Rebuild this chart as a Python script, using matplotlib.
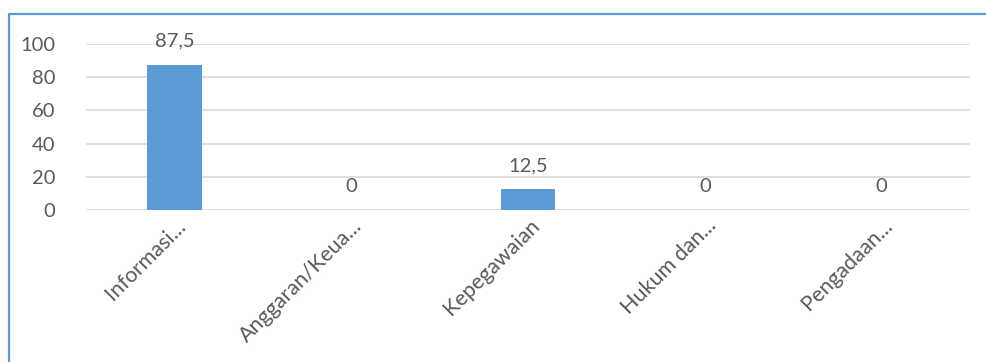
import matplotlib
matplotlib.use("Agg")
import matplotlib.pyplot as plt
from matplotlib.lines import Line2D
from matplotlib.transforms import ScaledTranslation

categories = ["Informasi...", "Anggaran/Keua...", "Kepegawaian", "Hukum dan...", "Pengadaan..."]
values = [87.5, 0, 12.5, 0, 0]
value_labels = ["87,5", "0", "12,5", "0", "0"]
yticks = [0, 20, 40, 60, 80, 100]

plt.rcParams['font.family'] = ['Lato', 'DejaVu Sans']
text_color = "#595959"
bar_color = "#5B9BD5"
grid_color = "#D9D9D9"

W, H = 986, 362
fig = plt.figure(figsize=(W/100, H/100), dpi=100)
ax = fig.add_axes([86/W, 1-210/H, (970-86)/W, (210-44)/H])

x = list(range(len(categories)))
ax.bar(x, values, width=0.31, color=bar_color, zorder=3)
ax.set_xlim(-0.5, len(categories)-0.5)
ax.set_ylim(0, 100)
ax.set_yticks(yticks)
ax.set_yticklabels([str(t) for t in yticks])
ax.yaxis.grid(True, color=grid_color, linewidth=1.2, zorder=0)
for s in ax.spines.values():
    s.set_visible(False)
ax.tick_params(axis='both', length=0, colors=text_color)
ax.tick_params(axis='y', pad=22, labelsize=14.5)
ax.set_xticks(x)
ax.set_xticklabels(categories, rotation=45, ha='right', va='center',
                   rotation_mode='anchor', color=text_color, fontsize=15.5)
ax.tick_params(axis='x', pad=9)
shift = ScaledTranslation(8/100, 0, fig.dpi_scale_trans)
for lab in ax.get_xticklabels():
    lab.set_transform(lab.get_transform() + shift)

for xi, v, lab in zip(x, values, value_labels):
    ax.annotate(lab, (xi, v), xytext=(0, 17), textcoords='offset points',
                ha='center', va='center', color=text_color, fontsize=14.5)

# blue frame (left and top edges visible)
fig.add_artist(Line2D([9/W, 9/W, 1.0], [0.0, 1-14/H, 1-14/H],
                      transform=fig.transFigure, color="#5B9BD5", linewidth=1.6))

fig.savefig("out.png", dpi=100, facecolor="white")
